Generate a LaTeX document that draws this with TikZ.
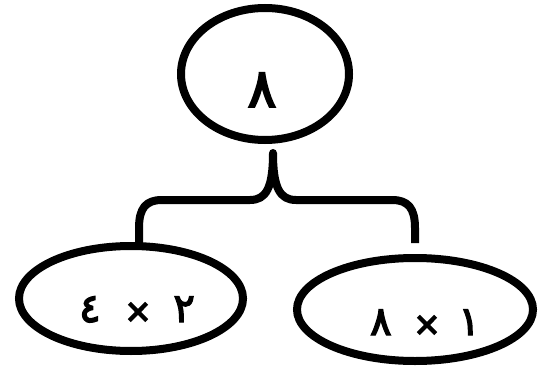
\documentclass[tikz,border=0pt]{standalone}
\usepackage{fontspec}
\usetikzlibrary{shapes.geometric}
\TeXXeTstate=1
\newfontfamily\arabicfont[Script=Arabic, FakeBold=3.5]{DejaVu Sans}
\newfontfamily\timesfont[FakeBold=5]{DejaVu Sans}
\newcommand{\tms}{{\timesfont\fontsize{32}{40}\selectfont ×}}
\begin{document}
\begin{tikzpicture}[x=1pt,y=-1pt,
  oval/.style={ellipse, draw, line width=8pt, inner sep=0pt},
  bignum/.style={font=\arabicfont\fontsize{54}{60}\selectfont, inner sep=0pt, anchor=base},
  num/.style={font=\arabicfont\fontsize{40}{48}\selectfont, inner sep=0pt, anchor=base},
  brace/.style={line width=8pt, line join=round}]
\useasboundingbox (0,0) rectangle (548,374);
\node[oval, minimum width=168pt, minimum height=132pt] (top) at (265,74) {};
\node[oval, minimum width=224pt, minimum height=105pt] (left) at (131,298.5) {};
\node[oval, minimum width=236pt, minimum height=103pt] (right) at (415,309.5) {};
\node[bignum] (ttop) at (262,107) {\beginR ٨\endR};
\node[num] (tleft) at (137,322) {\beginR ٢\hspace{22pt}\tms\hspace{24pt}٤\endR};
\node[num] (tright) at (425,335) {\beginR ١\hspace{18pt}\tms\hspace{22pt}٨\endR};
\coordinate (bl) at (139,246);
\coordinate (br) at (415,243);
\coordinate (tip) at (273,153);
\draw[brace] (bl) -- (139,228) .. controls (139,208) and (146,200) .. (162,200) -- (250,200) .. controls (266,200) and (273,188) .. (tip) .. controls (273,188) and (280,200) .. (296,200) -- (392,200) .. controls (408,200) and (415,208) .. (415,228) -- (br);
\end{tikzpicture}
\end{document}
